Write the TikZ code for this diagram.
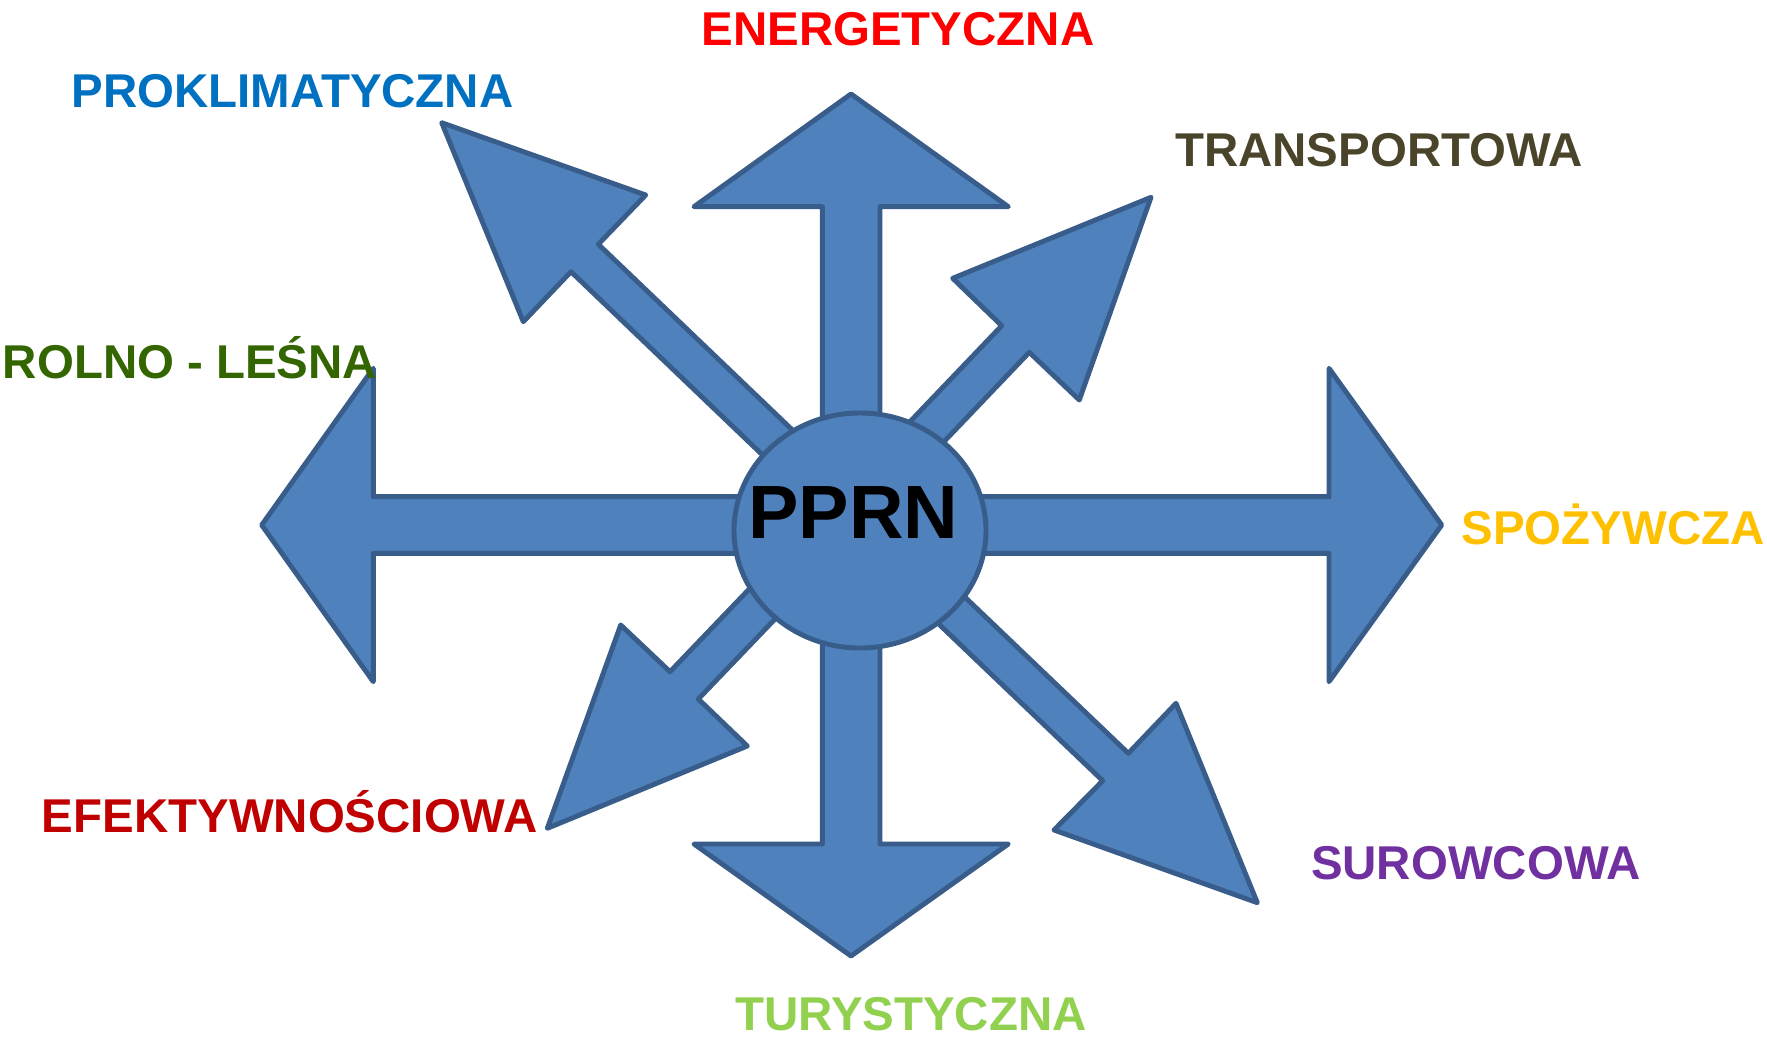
\documentclass[tikz,border=0pt]{standalone}
\usepackage{fontspec}
\setmainfont{Liberation Sans}
\definecolor{arrowfill}{HTML}{4F81BD}
\definecolor{arrowline}{HTML}{385D8A}
\definecolor{cEnerg}{HTML}{FF0000}
\definecolor{cProkl}{HTML}{0070C0}
\definecolor{cTrans}{HTML}{4A452A}
\definecolor{cRolno}{HTML}{336600}
\definecolor{cSpoz}{HTML}{FFC000}
\definecolor{cEfekt}{HTML}{C00000}
\definecolor{cSurow}{HTML}{7030A0}
\definecolor{cTuryst}{HTML}{92D050}
\begin{document}
\begin{tikzpicture}
  [x=0.02cm,y=-0.02cm,
   spoke/.style={fill=arrowfill,draw=arrowline,line width=2.8pt,line join=round},
   lbl/.style={anchor=base,inner sep=0pt,font=\fontsize{27}{30}\selectfont\bfseries}]
  \useasboundingbox (0,0) rectangle (1767,1038);

  % straight arrows
  \draw[spoke] (822.3,525)--(822.3,206.7)--(694,206.7)--(851,94)--(1008.3,206.7)--(880,206.7)--(880,525)--cycle;
  \draw[spoke] (822.3,525)--(822.3,844)--(694,844)--(851,956)--(1008.3,844)--(880,844)--(880,525)--cycle;
  \draw[spoke] (851,496.7)--(373.3,496.7)--(373.3,368.3)--(261.7,525)--(373.3,681.7)--(373.3,553.3)--(851,553.3)--cycle;
  \draw[spoke] (851,496.7)--(1329,496.7)--(1329,368.3)--(1441.7,525)--(1329,681.7)--(1329,553.3)--(851,553.3)--cycle;

  % diagonal arrows
  \draw[spoke] (851.2,486.3)--(598.3,244.3)--(645.7,195)--(441.7,122.7)--(523.3,321.7)--(571,271.7)--(823.9,513.7)--cycle;
  \draw[spoke] (829,506.5)--(1001.7,325.7)--(952.7,278.3)--(1151,197.3)--(1079.3,400)--(1029.3,352.3)--(856.6,533.1)--cycle;
  \draw[spoke] (843,491.2)--(670,671.7)--(620.7,625)--(547.3,828.3)--(747.3,746)--(698.3,699)--(871.3,518.5)--cycle;
  \draw[spoke] (875.3,511.5)--(1128.3,753.3)--(1176,703.3)--(1257.3,902.7)--(1054,830)--(1102.7,780.7)--(849.7,538.9)--cycle;

  % hub
  \draw[spoke] (860,530.5) ellipse [x radius=126,y radius=117.5];
  \node (pprn) at (853.5,513) {\fontsize{43}{46}\selectfont\bfseries PPRN};

  % labels
  \node[lbl,text=cEnerg]  (energ)  at (898,45.7)    {ENERGETYCZNA};
  \node[lbl,text=cProkl]  (prokl)  at (292.5,107)   {PROKLIMATYCZNA};
  \node[lbl,text=cTrans]  (trans)  at (1379,166.8)  {TRANSPORTOWA};
  \node[lbl,text=cRolno]  (rolno)  at (190,378)     {ROLNO - LEŚNA};
  \node[lbl,text=cSpoz]   (spoz)   at (1613,544.3)  {SPOŻYWCZA};
  \node[lbl,text=cEfekt]  (efekt)  at (289.6,832.8) {EFEKTYWNOŚCIOWA};
  \node[lbl,text=cSurow]  (surow)  at (1475.7,879)  {SUROWCOWA};
  \node[lbl,text=cTuryst] (turyst) at (911,1030)    {TURYSTYCZNA};

\end{tikzpicture}
\end{document}
